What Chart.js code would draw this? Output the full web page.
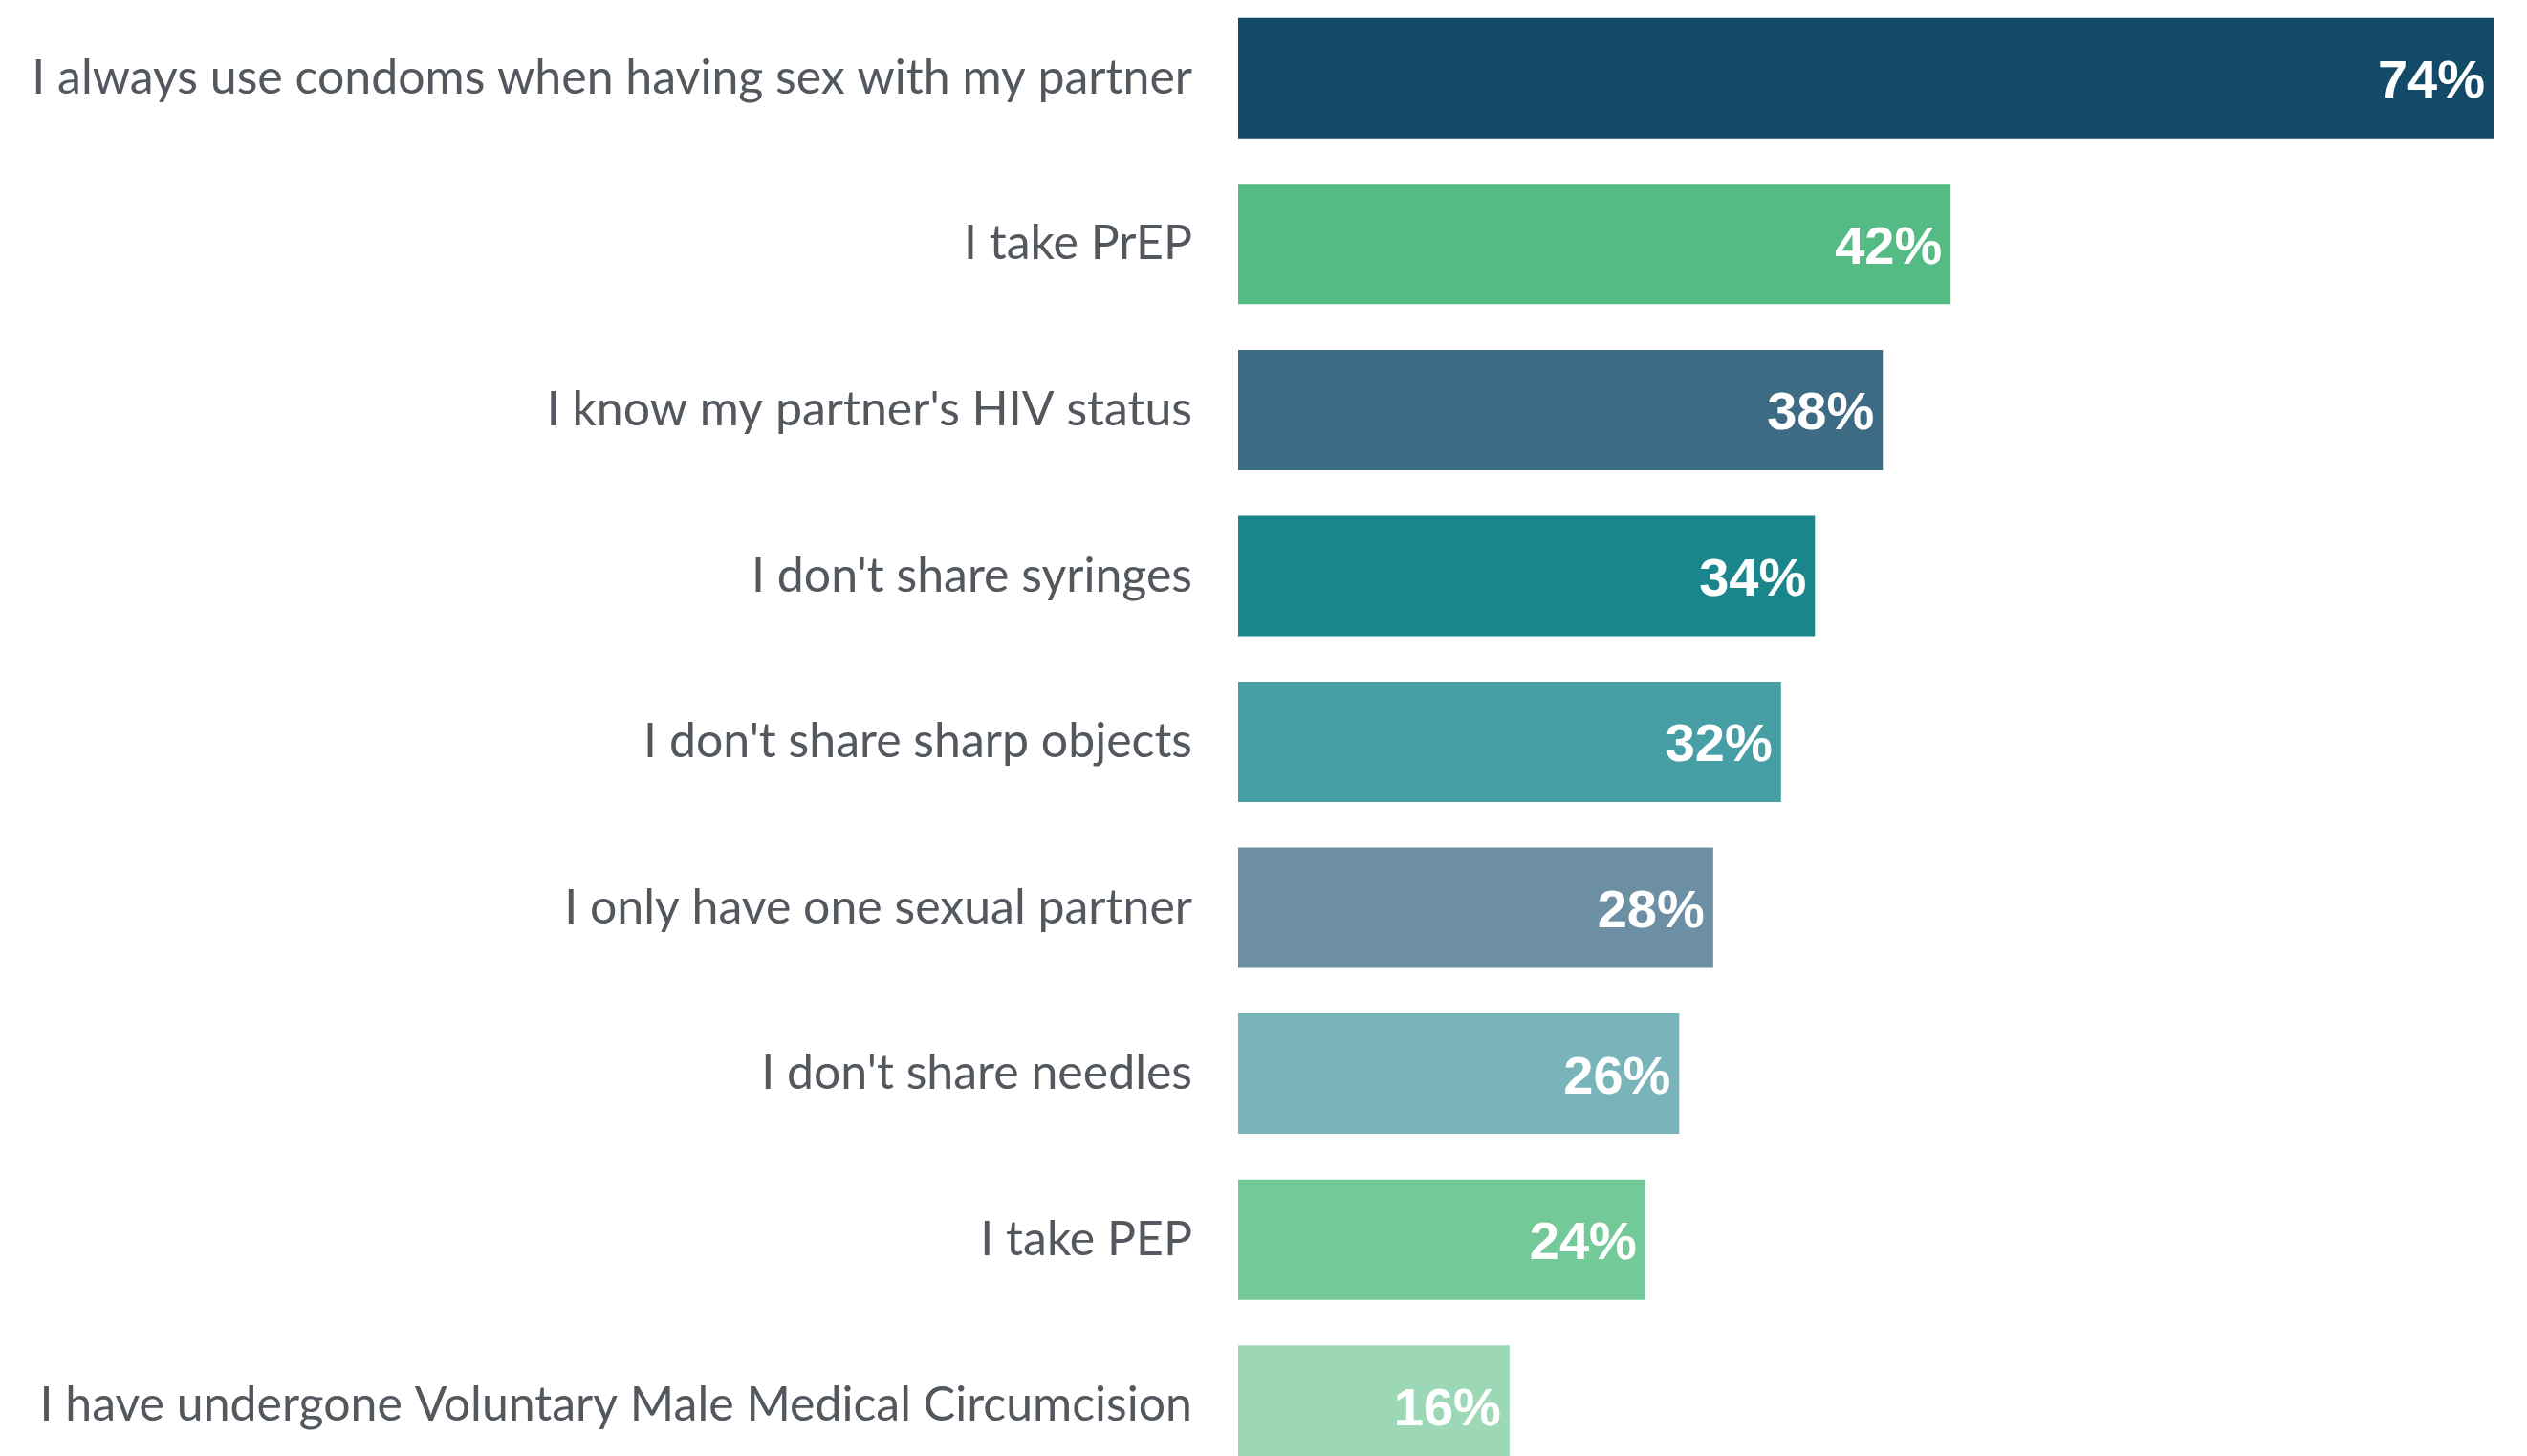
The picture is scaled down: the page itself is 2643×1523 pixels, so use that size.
<!DOCTYPE html>
<html>
<head>
<meta charset="utf-8">
<script src="https://cdn.jsdelivr.net/npm/chart.js@4"></script>
<style>
  html, body { margin: 0; padding: 0; background: #ffffff; overflow: hidden; width: 2643px; height: 1523px; }
  #wrap { position: absolute; left: 0; top: -5px; width: 2643px; height: 1562px; }
</style>
</head>
<body>
<div id="wrap"><canvas id="c"></canvas></div>
<script>
const categories = [
  "I always use condoms when having sex with my partner",
  "I take PrEP",
  "I know my partner's HIV status",
  "I don't share syringes",
  "I don't share sharp objects",
  "I only have one sexual partner",
  "I don't share needles",
  "I take PEP",
  "I have undergone Voluntary Male Medical Circumcision"
];
const values = [74, 42, 38, 34, 32, 28, 26, 24, 16];
const barColors = ["#134a68", "#55bb85", "#3e6b84", "#1b858c", "#479ea4", "#6d8fa3", "#78b4ba", "#74c999", "#9cd7b6"];
const valueLabels = values.map(v => v + "%");

const valueLabelPlugin = {
  id: 'valueLabels',
  afterDatasetsDraw(chart) {
    const ctx = chart.ctx;
    const meta = chart.getDatasetMeta(0);
    ctx.save();
    ctx.font = "bold 56px 'Liberation Sans', Arial, sans-serif";
    ctx.fillStyle = "#ffffff";
    ctx.textAlign = "right";
    ctx.textBaseline = "middle";
    meta.data.forEach((bar, i) => {
      ctx.fillText(valueLabels[i], bar.x - 9, bar.y + 5);
    });
    ctx.restore();
  }
};

new Chart(document.getElementById('c'), {
  type: 'bar',
  data: {
    labels: categories,
    datasets: [{
      data: values,
      backgroundColor: barColors,
      borderWidth: 0,
      barPercentage: 0.726,
      categoryPercentage: 1.0
    }]
  },
  options: {
    indexAxis: 'y',
    responsive: true,
    maintainAspectRatio: false,
    animation: false,
    layout: { padding: { left: 0, right: 35, top: 0, bottom: 0 } },
    plugins: { legend: { display: false }, tooltip: { enabled: false } },
    scales: {
      x: { display: false, min: 0, max: 74 },
      y: {
        grid: { display: false, drawTicks: false },
        border: { display: false },
        ticks: {
          color: "#53585f",
          padding: 48,
          font: { family: "Lato, 'Open Sans', sans-serif", size: 50 }
        },
        afterFit(scale) {
          scale.width = 1295;
          scale.paddingTop = 0;
          scale.paddingBottom = 0;
        }
      }
    }
  },
  plugins: [valueLabelPlugin]
});
</script>
</body>
</html>
